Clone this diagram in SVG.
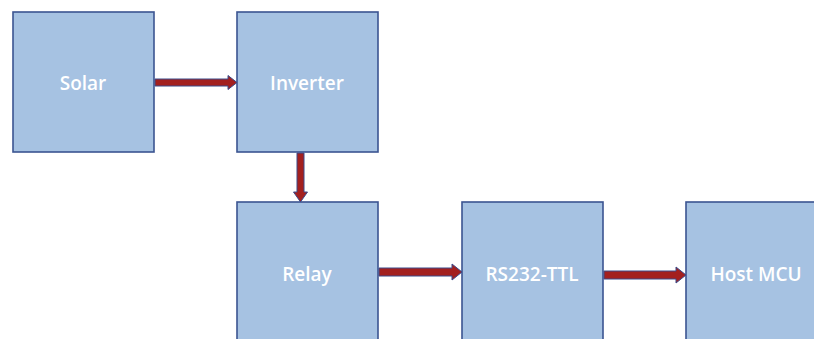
<svg xmlns="http://www.w3.org/2000/svg" width="814" height="339" viewBox="0 0 814 339">
<style>
.box{fill:#a6c2e2;stroke:#3b5491;stroke-width:1.6}
.lbl{fill:#ffffff;font-family:"Open Sans","Liberation Sans",sans-serif;font-size:19px;font-weight:600;text-anchor:middle;dominant-baseline:central}
.arr{fill:#a3201f;stroke:#3b4a8a;stroke-width:1;stroke-linejoin:miter}
</style>
<rect width="814" height="339" fill="#ffffff"/>
<g id="solar"><rect class="box" x="13" y="12" width="141" height="140"/><text class="lbl" x="83" y="83">Solar</text></g>
<g id="inverter"><rect class="box" x="237" y="12" width="141" height="140"/><text class="lbl" x="307" y="83">Inverter</text></g>
<g id="relay"><rect class="box" x="237" y="202" width="141" height="150"/><text class="lbl" x="307" y="274">Relay</text></g>
<g id="rs232"><rect class="box" x="462" y="202" width="141" height="150"/><text class="lbl" x="532" y="274">RS232-TTL</text></g>
<g id="host"><rect class="box" x="686" y="202" width="141" height="150"/><text class="lbl" x="756" y="274">Host MCU</text></g>
<g id="connectors">
<polygon class="arr" points="155,79 228,79 228,75.5 237,82.5 228,89.5 228,86 155,86"/>
<polygon class="arr" points="297,153 297,192 293.5,192 300.5,202 307.5,192 304,192 304,153"/>
<polygon class="arr" points="379,268 452,268 452,264 462,272 452,280 452,276 379,276"/>
<polygon class="arr" points="604,271 676,271 676,267 686,275 676,283 676,279 604,279"/>
</g>
</svg>
